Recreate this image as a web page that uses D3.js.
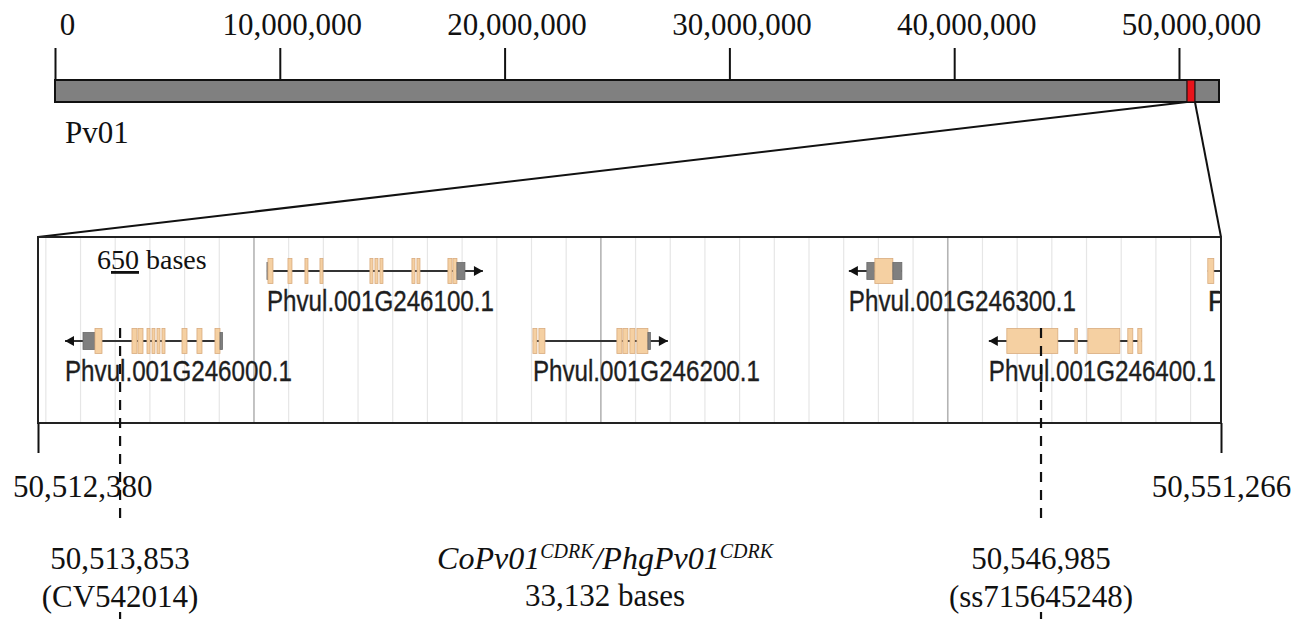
<!DOCTYPE html>
<html>
<head>
<meta charset="utf-8">
<script src="https://cdn.jsdelivr.net/npm/d3@7"></script>
<style>
  body { margin: 0; background: #fff; }
  svg { display: block; }
</style>
</head>
<body>
<script>
// chromosome overview
var chromName = "Pv01";
var chromLength = 51780000;
var chromTicks = [0, 10000000, 20000000, 30000000, 40000000, 50000000];

// selected interval and the gene browser window shown under it
var intervalEnds = [50512380, 50551266];
var browserView = [50510900, 50553460];
var gridOrigin = 50518670, gridStep = 1248;

// flanking markers
var markerNames = ["CV542014", "ss715645248"];
var markerPos = [50513853, 50546985];
var locusName = ["CoPv01", "CDRK", "/PhgPv01", "CDRK"];

// genes in the window (exon start, end, c = cds / u = utr)
var geneNames = ["Phvul.001G246000.1", "Phvul.001G246100.1", "Phvul.001G246200.1",
                 "Phvul.001G246300.1", "Phvul.001G246400.1", "Phvul.001G246500.1"];
var geneStrand = ["-", "+", "+", "-", "-", "+"];
var geneLane = [1, 0, 1, 0, 1, 0];
var geneExons = [
  [[50512519, 50512950, "u"], [50512950, 50513202, "c"], [50514281, 50514461, "c"], [50514497, 50514677, "c"],
   [50514821, 50514929, "c"], [50515001, 50515108, "c"], [50515180, 50515288, "c"], [50515360, 50515468, "c"],
   [50516080, 50516260, "c"], [50516619, 50516799, "c"], [50517267, 50517447, "c"], [50517447, 50517518, "u"]],
  [[50519137, 50519173, "u"], [50519173, 50519353, "c"], [50519893, 50520036, "c"], [50520504, 50520612, "c"],
   [50521044, 50521151, "c"], [50522842, 50522950, "c"], [50523022, 50523130, "c"], [50523202, 50523310, "c"],
   [50524353, 50524461, "c"], [50524533, 50524641, "c"], [50525648, 50525792, "c"], [50525828, 50525971, "c"],
   [50525971, 50526259, "u"]],
  [[50528705, 50528849, "c"], [50528921, 50529137, "c"], [50531727, 50531906, "c"], [50531942, 50532122, "c"],
   [50532194, 50532374, "c"], [50532446, 50532842, "c"], [50532842, 50532914, "u"]],
  [[50540719, 50541007, "u"], [50541007, 50541654, "c"], [50541654, 50541978, "u"]],
  [[50545755, 50547589, "c"], [50548201, 50548273, "c"], [50548669, 50549820, "c"], [50550107, 50550287, "c"],
   [50550467, 50550611, "c"]],
  [[50552985, 50553201, "c"], [50555200, 50555600, "c"]]
];

var width = 1306, height = 619;
var serif = "'Liberation Serif', 'Times New Roman', serif";
var sans = "'Liberation Sans', Arial, sans-serif";
var fmt = d3.format(",");

var svg = d3.select("body").append("svg")
    .attr("width", width)
    .attr("height", height);

// ---- chromosome bar ----
var barTop = 80, barH = 22;
var cx = d3.scaleLinear().domain([0, chromLength]).range([55, 1219]);

var topAxis = svg.append("g")
    .attr("transform", "translate(0," + barTop + ")")
    .call(d3.axisTop(cx).tickValues(chromTicks).tickSize(32).tickPadding(13).tickFormat(fmt));
topAxis.select(".domain").remove();
topAxis.selectAll("line").attr("stroke", "#111").attr("stroke-width", 2);
topAxis.selectAll("text")
    .attr("dx", 12)
    .style("font-family", serif)
    .style("font-size", "31px")
    .style("fill", "#111");

svg.append("rect")
    .attr("x", cx(0))
    .attr("y", barTop)
    .attr("width", cx(chromLength) - cx(0))
    .attr("height", barH)
    .attr("fill", "#808080")
    .attr("stroke", "#111")
    .attr("stroke-width", 2);

// red box for the interval (drawn at least 8px wide)
var mid = cx((intervalEnds[0] + intervalEnds[1]) / 2);
var rw = Math.max(cx(intervalEnds[1]) - cx(intervalEnds[0]), 8);
svg.append("rect")
    .attr("x", mid - rw / 2)
    .attr("y", barTop)
    .attr("width", rw)
    .attr("height", barH)
    .attr("fill", "#e8141b")
    .attr("stroke", "#111")
    .attr("stroke-width", 1.2);

svg.append("text")
    .attr("x", cx(0) + 10)
    .attr("y", barTop + barH + 41)
    .style("font-family", serif)
    .style("font-size", "31px")
    .style("fill", "#111")
    .text(chromName);

// ---- zoom panel ----
var pL = 38, pR = 1221, pT = 237, pB = 423;
var bx = d3.scaleLinear().domain(browserView).range([pL, pR]);

// lines from the red box to the panel
svg.append("line").attr("x1", mid - rw / 2).attr("y1", barTop + barH).attr("x2", pL).attr("y2", pT)
    .attr("stroke", "#111").attr("stroke-width", 2);
svg.append("line").attr("x1", mid + rw / 2).attr("y1", barTop + barH).attr("x2", pR).attr("y2", pT)
    .attr("stroke", "#111").attr("stroke-width", 2);

svg.append("clipPath").attr("id", "panelClip")
  .append("rect").attr("x", pL).attr("y", pT).attr("width", pR - pL).attr("height", pB - pT);

var panel = svg.append("g").attr("clip-path", "url(#panelClip)");

// grid lines
var grid = d3.range(gridOrigin - gridStep * 20, browserView[1], gridStep)
    .map(function (d, i) { return { pos: d, major: (i % 10) === 0 }; })
    .filter(function (d) { return d.pos > browserView[0]; });

panel.selectAll(".grid")
    .data(grid)
    .enter().append("line")
    .attr("x1", function (d) { return bx(d.pos); })
    .attr("x2", function (d) { return bx(d.pos); })
    .attr("y1", pT)
    .attr("y2", pB)
    .attr("stroke", function (d) { return d.major ? "#b4b4b4" : "#e6e6e6"; })
    .attr("stroke-width", function (d) { return d.major ? 1.6 : 1.2; });

// scale bar text
var sb = panel.append("text")
    .attr("x", 97)
    .attr("y", 269)
    .style("font-family", serif)
    .style("font-size", "28px")
    .style("fill", "#111");
sb.append("tspan").text("6");
sb.append("tspan").attr("text-decoration", "underline").text("50");
sb.append("tspan").text(" bases");

// genes
var laneY = function (l) { return 271 + l * 70; };
var arrowLen = 18;

var genes = geneNames.map(function (n, i) {
  return {
    name: n,
    strand: geneStrand[i],
    lane: geneLane[i],
    exons: geneExons[i],
    start: d3.min(geneExons[i], function (e) { return e[0]; }),
    end: d3.max(geneExons[i], function (e) { return e[1]; })
  };
});

var gg = panel.selectAll(".gene")
    .data(genes)
    .enter().append("g")
    .attr("class", "gene");

gg.each(function (g) {
  var el = d3.select(this);
  var y = laneY(g.lane);
  var s = bx(g.start), e = bx(g.end);
  var tip = g.strand === "+" ? e + arrowLen : s - arrowLen;

  // backbone with arrow stem
  el.append("line")
    .attr("x1", Math.min(s, tip)).attr("x2", Math.max(e, tip))
    .attr("y1", y).attr("y2", y)
    .attr("stroke", "#333").attr("stroke-width", 2);
  var dir = g.strand === "+" ? 1 : -1;
  el.append("path")
    .attr("d", "M" + tip + "," + y + "L" + (tip - dir * 9) + "," + (y - 5) + "L" + (tip - dir * 9) + "," + (y + 5) + "Z")
    .attr("fill", "#111");

  el.selectAll("rect")
    .data(g.exons)
    .enter().append("rect")
    .attr("x", function (d) { return bx(d[0]); })
    .attr("width", function (d) { return Math.max(bx(d[1]) - bx(d[0]), 2.5); })
    .attr("y", function (d) { return d[2] === "c" ? y - 12.5 : y - 8.5; })
    .attr("height", function (d) { return d[2] === "c" ? 25 : 17; })
    .attr("fill", function (d) { return d[2] === "c" ? "#f5d0a2" : "#7f7f7f"; })
    .attr("stroke", function (d) { return d[2] === "c" ? "#d9ab7e" : "#6a6a6a"; })
    .attr("stroke-width", 0.8);

  // label; the one running past the panel edge is cut to what shows
  var lx = Math.min(s, tip);
  var label = g.name;
  if (lx + 227 > pR) label = g.name.slice(0, Math.max(1, Math.floor((pR - lx) / 12.6)));
  el.append("text")
    .attr("x", lx)
    .attr("y", y + 40)
    .attr("textLength", label.length === g.name.length ? 227 : null)
    .attr("lengthAdjust", "spacingAndGlyphs")
    .style("font-family", sans)
    .style("font-size", "29px")
    .style("fill", "#1e1e1e")
    .style("stroke", "#1e1e1e")
    .style("stroke-width", 0.35)
    .text(label);
});

// panel frame
svg.append("rect")
    .attr("x", pL).attr("y", pT)
    .attr("width", pR - pL).attr("height", pB - pT)
    .attr("fill", "none")
    .attr("stroke", "#222")
    .attr("stroke-width", 2);

// interval end ticks under the panel
var ix = d3.scaleLinear().domain(intervalEnds).range([pL, pR]);
var botAxis = svg.append("g")
    .attr("transform", "translate(0," + pB + ")")
    .call(d3.axisBottom(ix).tickValues(intervalEnds).tickSize(30).tickSizeOuter(0).tickPadding(22).tickFormat(fmt));
botAxis.select(".domain").remove();
botAxis.selectAll("line").attr("stroke", "#111").attr("stroke-width", 2);
botAxis.selectAll("text")
    .style("font-family", serif)
    .style("font-size", "31px")
    .style("fill", "#111");
// keep the labels on the page
botAxis.selectAll(".tick").each(function () {
  var t = d3.select(this).select("text");
  var b = t.node().getBBox();
  var tx = +d3.select(this).attr("transform").match(/translate\(([-\d.]+)/)[1];
  if (tx + b.x < 13) t.attr("x", 13 - (tx + b.x));
});

// markers
markerPos.forEach(function (p, i) {
  var x = bx(p);
  svg.append("line")
    .attr("x1", x).attr("x2", x).attr("y1", laneY(1) - 13).attr("y2", 520)
    .attr("stroke", "#111").attr("stroke-width", 2.2).attr("stroke-dasharray", "10,8");
  svg.append("line")
    .attr("x1", x).attr("x2", x).attr("y1", 612).attr("y2", 640)
    .attr("stroke", "#111").attr("stroke-width", 2.2).attr("stroke-dasharray", "10,8");
  svg.append("text")
    .attr("x", x).attr("y", 569).attr("text-anchor", "middle")
    .style("font-family", serif).style("font-size", "31px").style("fill", "#111")
    .text(fmt(p));
  svg.append("text")
    .attr("x", x).attr("y", 607).attr("text-anchor", "middle")
    .style("font-family", serif).style("font-size", "31px").style("fill", "#111")
    .text("(" + markerNames[i] + ")");
});

// locus name and size
var cMid = d3.mean([(bx(markerPos[0]) + bx(markerPos[1])) / 2, (pL + pR) / 2]);
var ln = svg.append("text")
    .attr("x", cMid).attr("y", 569).attr("text-anchor", "middle")
    .style("font-family", serif).style("font-size", "32px").style("font-style", "italic").style("fill", "#111");
ln.append("tspan").text(locusName[0]);
ln.append("tspan").attr("dy", -11).style("font-size", "20px").text(locusName[1]);
ln.append("tspan").attr("dy", 11).text(locusName[2]);
ln.append("tspan").attr("dy", -11).style("font-size", "20px").text(locusName[3]);

svg.append("text")
    .attr("x", cMid).attr("y", 606).attr("text-anchor", "middle")
    .style("font-family", serif).style("font-size", "31px").style("fill", "#111")
    .text(fmt(markerPos[1] - markerPos[0]) + " bases");
</script>
</body>
</html>
